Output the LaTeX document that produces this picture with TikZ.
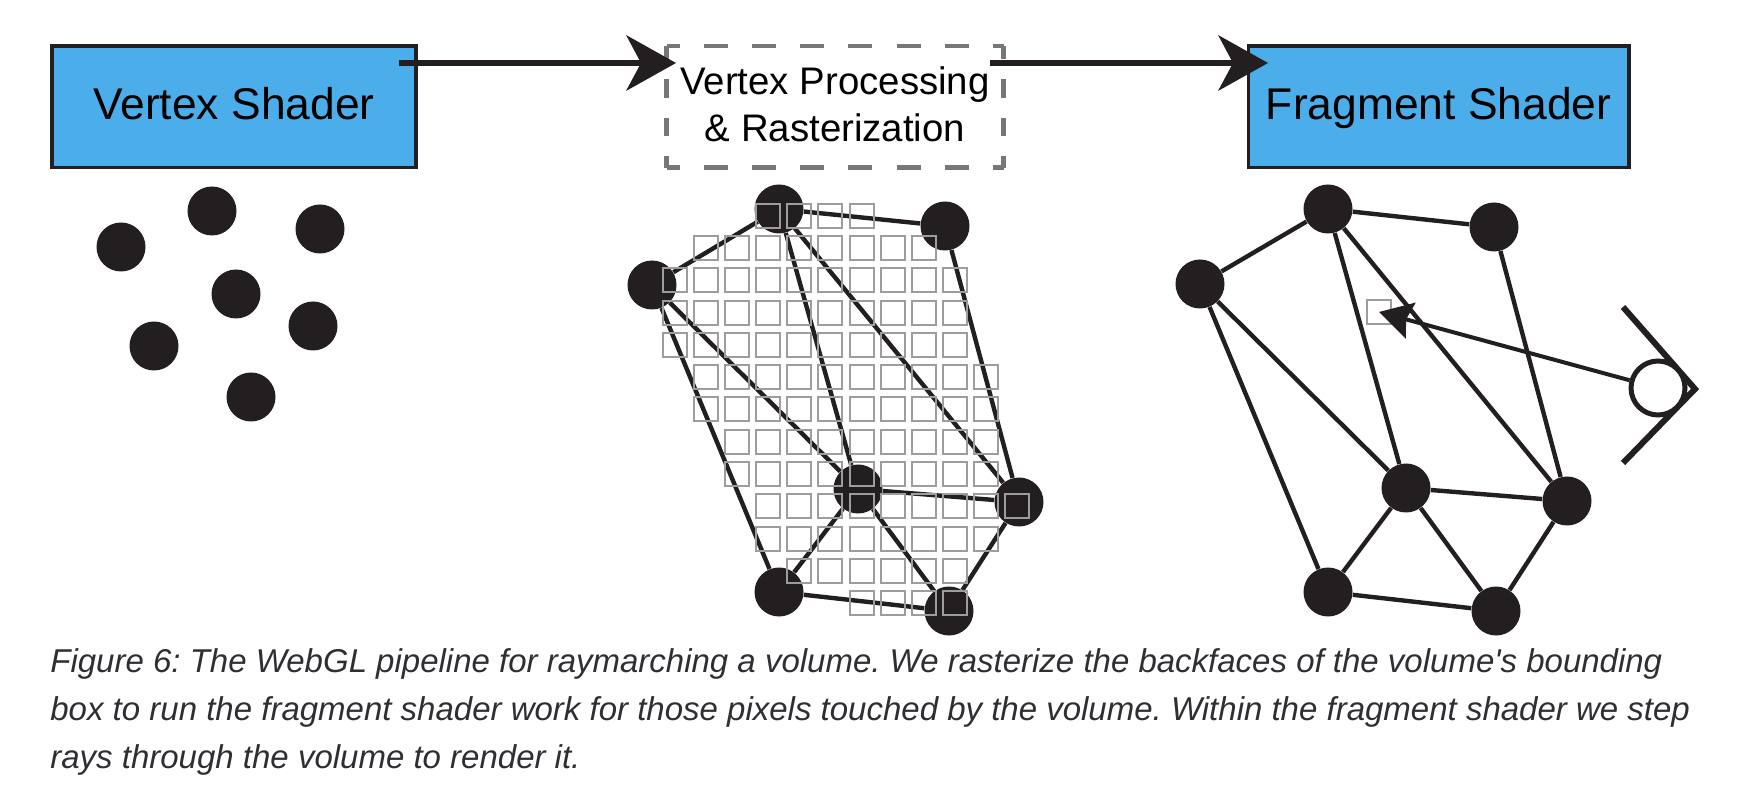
\documentclass[tikz,border=0pt]{standalone}
\usepackage{fontspec}
\setmainfont{Liberation Sans}
\usepackage{xcolor}
\usetikzlibrary{arrows.meta}
\definecolor{inkblack}{HTML}{231F20}
\definecolor{shaderblue}{HTML}{4BADEA}
\definecolor{pixelgrey}{HTML}{9D9DA1}
\definecolor{dashgrey}{HTML}{77777A}
\definecolor{captiongrey}{HTML}{2F2F33}
\frenchspacing

\begin{document}
\begin{tikzpicture}[x=0.5pt,y=-0.5pt,
 shaderbox/.style={draw=inkblack,line width=1.8pt,fill=shaderblue,minimum width=182pt,minimum height=60.75pt,inner sep=0pt,text height=16pt,text depth=3.4pt,font=\fontsize{22.2}{26}\selectfont},
 procbox/.style={minimum width=168.5pt,minimum height=60.75pt,inner sep=0pt,outer sep=0pt,align=center,text height=37pt,text depth=2.7pt,font=\fontsize{19.2}{23.3}\selectfont},
 dashh/.style={draw=dashgrey,line width=2.2pt,dash pattern=on 12pt off 12.1pt,dash phase=5.5pt},
 dashv/.style={draw=dashgrey,line width=2.2pt,dash pattern=on 9.25pt off 10pt,dash phase=2.6pt},
 vert/.style={circle,fill=inkblack,minimum size=24.5pt,inner sep=0pt},
 pixel/.style={draw=pixelgrey,line width=1pt,minimum size=12pt,inner sep=0pt},
 edge/.style={draw=inkblack,line width=2.2pt},
 arr/.style={draw=inkblack,line width=3pt,-{Stealth[length=25pt,width=28pt,inset=7.5pt,line width=0pt]}},
 rayarr/.style={draw=inkblack,line width=2pt,-{Stealth[length=16.5pt,width=18.8pt,inset=2.5pt,line width=0pt]}},
 eyeball/.style={circle,draw=inkblack,line width=2.5pt,fill=white,minimum size=27pt,inner sep=0pt},
 caption/.style={anchor=north west,align=left,inner sep=0pt,text=captiongrey,font=\fontsize{16.5}{23.85}\selectfont\itshape}]
 \useasboundingbox (0,0) rectangle (1760,790);
 % top row
 \node[shaderbox] (vs) at (234,106.8) {Vertex Shader};
 \node[procbox] (proc) at (835,106.8) {Vertex Processing\\ \& Rasterization};
 \node[shaderbox,minimum width=190.25pt] (fs) at (1438.7,106.8) {Fragment Shader};
 \draw[dashh] (proc.north west) -- (proc.north east);
 \draw[dashh] (proc.south west) -- (proc.south east);
 \draw[dashv] (proc.north west) -- (proc.south west);
 \draw[dashv] (proc.north east) -- (proc.south east);
 \coordinate (vsout) at (399,63);
 \coordinate (procin) at (676,63);
 \coordinate (procout) at (990,63);
 \coordinate (fsin) at (1268,63);
 \draw[arr] (vsout) -- (procin);
 \draw[arr] (procout) -- (fsin);
 % loose vertices
 \node[vert] (p1) at (121,247) {};
 \node[vert] (p2) at (212,211) {};
 \node[vert] (p3) at (320,229) {};
 \node[vert] (p4) at (236,294) {};
 \node[vert] (p5) at (313,326) {};
 \node[vert] (p6) at (154,346) {};
 \node[vert] (p7) at (251,397) {};
 % rasterized mesh
 \node[vert] (ma) at (779,209) {};
 \node[vert] (mb) at (945,226) {};
 \node[vert] (mc) at (652,285) {};
 \node[vert] (md) at (858,489) {};
 \node[vert] (me) at (1019,502) {};
 \node[vert] (mf) at (779,592) {};
 \node[vert] (mg) at (949,611) {};
 \foreach \s/\t in {ma/mb,ma/mc,ma/md,ma/me,mb/me,mc/md,mc/mf,md/me,md/mf,md/mg,me/mg,mf/mg}
  \draw[edge] (\s) -- (\t);
 % row/first column/last column
 \foreach \r/\first/\last in {0/3/6,1/1/8,2/0/9,3/0/9,4/0/9,5/1/10,6/1/10,7/2/10,8/2/10,9/3/11,10/3/10,11/4/9,12/6/9}
  \foreach \c in {\first,...,\last}
   \node[pixel] (px\r-\c) at ({674.7+31.15*\c},{215.7+32.3*\r}) {};
 % fragment shader mesh
 \node[vert] (fa) at (1328,209) {};
 \node[vert] (fb) at (1494,227) {};
 \node[vert] (fc) at (1200,284) {};
 \node[vert] (fd) at (1406,488) {};
 \node[vert] (fe) at (1567,501) {};
 \node[vert] (ff) at (1328,592) {};
 \node[vert] (fg) at (1496,611) {};
 \foreach \s/\t in {fa/fb,fa/fc,fa/fd,fa/fe,fb/fe,fc/fd,fc/ff,fd/fe,fd/ff,fd/fg,fe/fg,ff/fg}
  \draw[edge] (\s) -- (\t);
 % eye and ray
 \node[pixel] (target) at (1379,312) {};
 \coordinate (lidtop) at (1623,307);
 \coordinate (lidapex) at (1695,389);
 \coordinate (lidbot) at (1623,463);
 \draw[edge,line width=3pt] (lidtop) -- (lidapex) -- (lidbot);
 \node[eyeball] (eye) at (1658,388) {};
 \draw[rayarr] (eye) -- (target.center);
 % caption
 \node[caption] (cap) at (50,648.5) {Figure 6: The WebGL pipeline for raymarching a volume. We rasterize the backfaces of the volume\textquotesingle s bounding\\ box to run the fragment shader work for those pixels touched by the volume. Within the fragment shader we step\\ rays through the volume to render it.};
\end{tikzpicture}
\end{document}
